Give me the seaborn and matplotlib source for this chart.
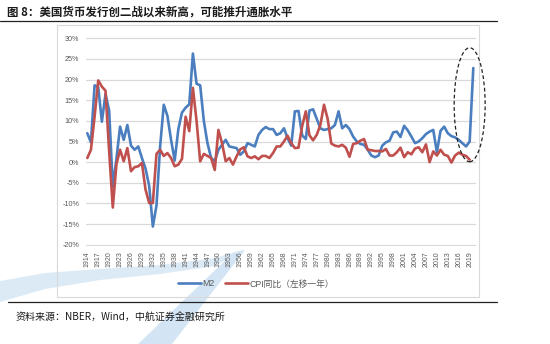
import numpy as np
import pandas as pd
import matplotlib
matplotlib.use("Agg")
import matplotlib.pyplot as plt
import seaborn as sns
from matplotlib.patches import Ellipse, Rectangle, Polygon
from matplotlib.lines import Line2D
from matplotlib.ticker import FuncFormatter

# ---------------- data ----------------
m2_years = list(range(1914, 2021))
m2_growth = [
    7.0, 4.8, 18.6, 18.2, 9.8, 16.5, 12.5, -6.0, 0.8, 8.6,      # 1914-1923
    5.4, 9.0, 4.0, 3.0, 3.8, 1.0, -1.6, -5.8, -15.6, -10.5,     # 1924-1933
    3.8, 13.9, 11.2, 5.4, 0.4, 8.0, 12.0, 13.2, 14.0, 26.3,     # 1934-1943
    19.0, 18.6, 10.0, 4.6, 1.0, 0.2, 3.0, 4.2, 5.4, 3.8,        # 1944-1953
    3.6, 3.4, 1.8, 2.6, 4.6, 4.2, 3.8, 6.6, 7.8, 8.5,           # 1954-1963
    8.0, 8.0, 6.6, 7.0, 8.2, 5.8, 4.0, 12.3, 12.4, 6.5,         # 1964-1973
    5.6, 12.5, 12.8, 10.5, 8.2, 7.8, 8.0, 8.2, 9.0, 12.3,       # 1974-1983
    8.2, 9.0, 8.0, 6.2, 5.0, 4.4, 4.2, 3.0, 1.6, 1.2,           # 1984-1993
    1.6, 4.0, 4.8, 5.2, 7.2, 7.4, 6.1, 8.8, 7.7, 6.2,           # 1994-2003
    4.6, 5.0, 5.8, 6.8, 7.4, 7.8, 2.4, 7.6, 8.6, 7.0,           # 2004-2013
    6.3, 6.0, 5.4, 4.6, 3.8, 5.0, 22.8,                         # 2014-2020
]
cpi_years = list(range(1914, 2020))
cpi_lead = [
    1.0, 3.0, 11.0, 19.8, 18.3, 17.3, 2.6, -11.0, -0.5, 3.0,    # 1914-1923
    0.2, 3.4, -2.2, -1.2, -1.0, -0.2, -6.7, -9.9, -9.9, 2.0,    # 1924-1933
    3.0, 1.5, 2.2, 1.0, -1.0, -0.6, 0.8, 11.0, 7.5, 18.0,       # 1934-1943
    10.0, 0.2, 2.0, 1.5, 1.0, -1.9, 7.8, 4.6, 0.2, 1.0,         # 1944-1953
    -0.6, 1.4, 3.1, 3.6, 1.4, 1.0, 1.4, 0.7, 1.5, 1.5,          # 1954-1963
    1.0, 2.2, 3.8, 3.8, 5.0, 6.4, 4.6, 3.4, 3.5, 8.7,           # 1964-1973
    12.3, 6.5, 5.3, 6.6, 9.0, 13.9, 10.5, 4.5, 4.0, 3.8,        # 1974-1983
    4.2, 3.5, 1.3, 4.4, 4.6, 5.2, 5.6, 3.0, 2.9, 2.7,           # 1984-1993
    2.7, 2.6, 3.2, 1.6, 1.6, 2.4, 3.5, 1.2, 2.4, 1.9,           # 1994-2003
    3.3, 3.6, 2.4, 4.3, 0.0, 2.6, 1.6, 3.0, 1.8, 1.5,           # 2004-2013
    -0.1, 1.6, 2.3, 1.8, 1.5, 0.6,                              # 2014-2019
]
tick_years = list(range(1914, 2020, 3))
y_ticks = list(range(-20, 31, 5))
legend_labels = ["M2", "CPI同比（左移一年）"]
title_text = "图 8：美国货币发行创二战以来新高，可能推升通胀水平"
source_text = "资料来源：NBER，Wind，中航证券金融研究所"

# ---------------- style ----------------
sns.set_theme(style="white")
plt.rcParams["font.family"] = ["Liberation Sans", "Noto Sans CJK SC", "DejaVu Sans"]
plt.rcParams["axes.unicode_minus"] = False

W, H = 550, 344
fig = plt.figure(figsize=(W / 100, H / 100), dpi=100)
fig.patch.set_facecolor("white")

def fx(x):
    return x / W

def fy(y):
    return 1 - y / H

BLUE = "#4a7ebf"
RED = "#c0504d"
GRID = "#d9d9d9"
TXT = "#595959"

# watermark swoosh (light blue), behind everything
wm1 = Polygon([(fx(0), fy(281)), (fx(45), fy(273)), (fx(100), fy(269)), (fx(160), fy(265)),
               (fx(215), fy(258)), (fx(245), fy(249)), (fx(215), fy(266)), (fx(160), fy(274)),
               (fx(100), fy(280)), (fx(45), fy(289)), (fx(0), fy(302))],
              closed=True, transform=fig.transFigure, facecolor="#dceaf6",
              edgecolor="none", zorder=-5)
wm2 = Polygon([(fx(138), fy(344)), (fx(172), fy(344)), (fx(245), fy(250)), (fx(232), fy(254))],
              closed=True, transform=fig.transFigure, facecolor="#d3e5f4",
              edgecolor="none", zorder=-5)
fig.patches.extend([wm1, wm2])

# chart frame
frame = Rectangle((fx(57), fy(297)), fx(479) - fx(57), fy(25) - fy(297),
                  transform=fig.transFigure, facecolor="none", edgecolor=GRID,
                  linewidth=0.8, zorder=-4)
fig.patches.append(frame)

# title & rules
fig.text(fx(7), fy(12.5), title_text, fontsize=8.3, fontweight="bold",
         family=["Noto Sans CJK SC", "DejaVu Sans"], color="#1a1a1a", va="center", ha="left")
fig.add_artist(Line2D([fx(0), fx(497)], [fy(20.7), fy(20.7)], transform=fig.transFigure,
                      color="#222222", linewidth=0.9))
fig.add_artist(Line2D([fx(8), fx(497)], [fy(302), fy(302)], transform=fig.transFigure,
                      color="#222222", linewidth=0.9))
fig.text(fx(16), fy(318), source_text, fontsize=7.2, style="italic",
         family=["Noto Sans CJK SC", "DejaVu Sans"], color="#1a1a1a", va="center", ha="left")

# axes
px_per_pct = (244.7 - 38.3) / 50.0
top_px = 38.3 - 0.3 * px_per_pct
bot_px = 244.7 + 0.3 * px_per_pct
ax = fig.add_axes([fx(86), fy(bot_px), fx(476) - fx(86), (bot_px - top_px) / H])
ax.set_facecolor("none")

df_m2 = pd.DataFrame({"year": m2_years, "value": m2_growth})
df_cpi = pd.DataFrame({"year": cpi_years, "value": cpi_lead})
sns.lineplot(data=df_m2, x="year", y="value", ax=ax, color=BLUE, linewidth=1.9,
             label=legend_labels[0], zorder=3)
sns.lineplot(data=df_cpi, x="year", y="value", ax=ax, color=RED, linewidth=1.9,
             label=legend_labels[1], zorder=4)

px_per_year = (473.3 - 87.3) / (2020 - 1914)
ax.set_xlim(1914 - (87.3 - 86) / px_per_year, 1914 + (476 - 87.3) / px_per_year)
ax.set_ylim(-20.3, 30.3)
ax.set_yticks(y_ticks)
ax.yaxis.set_major_formatter(FuncFormatter(lambda v, p: f"{int(v)}%"))
ax.set_xticks(tick_years)
ax.set_xticklabels([str(y) for y in tick_years], rotation=90)
ax.tick_params(axis="y", length=0, pad=5, labelsize=5.2, labelcolor=TXT)
ax.tick_params(axis="x", length=0, pad=4, labelsize=5.0, labelcolor=TXT)
ax.grid(axis="y", color=GRID, linewidth=0.9)
ax.grid(axis="x", visible=False)
for s in ax.spines.values():
    s.set_visible(False)
ax.set_xlabel("")
ax.set_ylabel("")

# dashed ellipse around the latest spike
ell = Ellipse((2019.0, 13.9), width=31 / px_per_year, height=114 / px_per_pct,
              fill=False, edgecolor="#222222", linestyle=(0, (3, 2)), linewidth=0.9,
              clip_on=False, zorder=5)
ax.add_patch(ell)

# legend
handles, labels = ax.get_legend_handles_labels()
ax.get_legend().remove()
fig.legend(handles, labels, loc="center", bbox_to_anchor=(fx(256), fy(284)),
           ncol=2, frameon=False, handlelength=2.6, handletextpad=0.15,
           columnspacing=1.2, labelcolor=TXT,
           prop={"family": ["Liberation Sans", "Noto Sans CJK SC"], "size": 6.3})

fig.savefig("out.png", dpi=100, facecolor="white")
